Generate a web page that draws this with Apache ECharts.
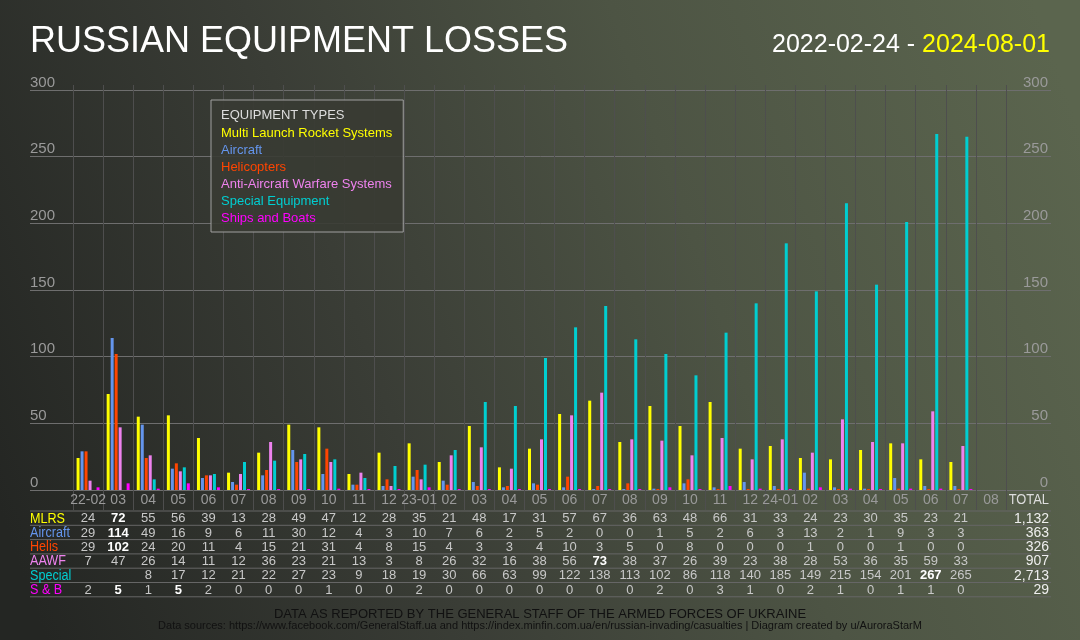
<!DOCTYPE html>
<html>
<head>
<meta charset="utf-8">
<title>Russian Equipment Losses</title>
<script src="https://cdn.jsdelivr.net/npm/echarts@6/dist/echarts.min.js"></script>
<style>
  html, body { margin: 0; padding: 0; background: #30332e; }
  #main { width: 1080px; height: 640px; }
</style>
</head>
<body>
<div id="main"></div>
<script>
const months = ['22-02', '03', '04', '05', '06', '07', '08', '09', '10', '11', '12', '23-01',
  '02', '03', '04', '05', '06', '07', '08', '09', '10', '11', '12', '24-01',
  '02', '03', '04', '05', '06', '07', '08']

const mlrs = [24, 72, 55, 56, 39, 13, 28, 49, 47, 12, 28, 35, 21, 48, 17, 31, 57, 67, 36, 63, 48, 66, 31, 33, 24, 23, 30, 35, 23, 21]
const aircraft = [29, 114, 49, 16, 9, 6, 11, 30, 12, 4, 3, 10, 7, 6, 2, 5, 2, 0, 0, 1, 5, 2, 6, 3, 13, 2, 1, 9, 3, 3]
const helis = [29, 102, 24, 20, 11, 4, 15, 21, 31, 4, 8, 15, 4, 3, 3, 4, 10, 3, 5, 0, 8, 0, 0, 0, 1, 0, 0, 1, 0, 0]
const aawf = [7, 47, 26, 14, 11, 12, 36, 23, 21, 13, 3, 8, 26, 32, 16, 38, 56, 73, 38, 37, 26, 39, 23, 38, 28, 53, 36, 35, 59, 33]
const special = ['-', '-', 8, 17, 12, 21, 22, 27, 23, 9, 18, 19, 30, 66, 63, 99, 122, 138, 113, 102, 86, 118, 140, 185, 149, 215, 154, 201, 267, 265]
const ships = [2, 5, 1, 5, 2, 0, 0, 0, 1, 0, 0, 2, 0, 0, 0, 0, 0, 0, 0, 2, 0, 3, 1, 0, 2, 1, 0, 1, 1, 0]
const totals = ['1,132', '363', '326', '907', '2,713', '29']

const typeNames = ['Multi Launch Rocket Systems', 'Aircraft', 'Helicopters',
  'Anti-Aircraft Warfare Systems', 'Special Equipment', 'Ships and Boats']
const rowNames = ['MLRS', 'Aircraft', 'Helis', 'AAWF', 'Special', 'S & B']
const rows = [mlrs, aircraft, helis, aawf, special, ships]

const colors = ['#ffff00', '#6495ed', '#ff4500', '#ee82ee', '#00ced1', '#ff00ff']
const font = 'Liberation Sans, Arial, sans-serif'

const chart = echarts.init(document.getElementById('main'))

const option = {
  animation: false,
  backgroundColor: new echarts.graphic.LinearGradient(0, 0.8, 1, 0.2, [
    { offset: 0, color: '#242623' },
    { offset: 0.35, color: '#3a3d36' },
    { offset: 0.65, color: '#4d5444' },
    { offset: 1, color: '#5b654e' }
  ]),
  title: [{
    text: 'RUSSIAN EQUIPMENT LOSSES',
    left: 30,
    top: 24,
    padding: 0,
    textStyle: { color: '#ffffff', fontSize: 36, fontWeight: 'normal', fontFamily: font }
  }, {
    text: '{w|2022-02-24 - }{y|2024-08-01}',
    right: 30,
    top: 33,
    padding: 0,
    textStyle: {
      fontFamily: font,
      fontWeight: 'normal',
      rich: {
        w: { color: '#ffffff', fontSize: 25, fontWeight: 'normal', fontFamily: font },
        y: { color: '#ffff00', fontSize: 25, fontWeight: 'normal', fontFamily: font }
      }
    }
  }],
  legend: {
    orient: 'vertical',
    left: 211,
    top: 100,
    itemWidth: 0,
    itemHeight: 13,
    itemGap: 4,
    padding: [27, 11, 7, 5],
    backgroundColor: 'rgba(56,59,51,0.9)',
    borderColor: '#a0a0a0',
    borderWidth: 1,
    selectedMode: false,
    itemStyle: { opacity: 0 },
    textStyle: { fontSize: 13, fontFamily: font },
    data: typeNames.map((n, i) => ({ name: n, textStyle: { color: colors[i] } }))
  },
  grid: [
    { left: 73, right: 74, top: 85, height: 405 },
    { left: 30, right: 29, top: 90, height: 400 }
  ],
  xAxis: [{
    type: 'category',
    gridIndex: 0,
    data: months,
    boundaryGap: true,
    axisLine: { show: false },
    axisTick: { show: true, interval: 0, length: 20, lineStyle: { color: '#4e4e4e' } },
    splitLine: { show: true, interval: 0, lineStyle: { color: '#4e4e4e' } },
    axisLabel: { interval: 0, margin: 3, color: '#9a9a9a', fontSize: 14, fontFamily: font }
  }, {
    type: 'value',
    gridIndex: 1,
    show: false
  }],
  yAxis: [{
    type: 'value',
    gridIndex: 0,
    min: 0,
    max: 303.75,
    show: false
  }, {
    type: 'value',
    gridIndex: 1,
    position: 'left',
    min: 0,
    max: 300,
    interval: 50,
    axisLine: { show: false },
    axisTick: { show: false },
    splitLine: { lineStyle: { color: '#6e6e6e' } },
    axisLabel: { inside: true, margin: 0, verticalAlign: 'bottom', color: '#9a9a9a', fontSize: 15, fontFamily: font }
  }, {
    type: 'value',
    gridIndex: 1,
    position: 'right',
    min: 0,
    max: 300,
    interval: 50,
    axisLine: { show: false },
    axisTick: { show: false },
    splitLine: { show: false },
    axisLabel: { inside: true, margin: 3, verticalAlign: 'bottom', color: '#9a9a9a', fontSize: 15, fontFamily: font }
  }],
  series: rows.map((data, i) => ({
    name: typeNames[i],
    type: 'bar',
    xAxisIndex: 0,
    yAxisIndex: 0,
    data: data,
    barWidth: 3,
    barGap: '33%',
    barMinHeight: 1,
    itemStyle: { color: colors[i] }
  }))
}

chart.setOption(option)

// table under the chart, built from the same arrays
const graphic = []
const rowTop = 511
const rowH = 14.3
const tableLeft = 30
const tableRight = 1051

for (let k = 0; k <= rows.length; k++) {
  graphic.push({
    type: 'line',
    silent: true,
    shape: { x1: tableLeft, y1: rowTop + k * rowH, x2: tableRight, y2: rowTop + k * rowH },
    style: { stroke: '#666666', lineWidth: 1 }
  })
}

graphic.push({
  type: 'text',
  x: 1049,
  y: 500,
  scaleX: 0.92,
  style: { text: 'TOTAL', textAlign: 'right', textVerticalAlign: 'middle', font: '14px ' + font, fill: '#dddddd' }
})

for (let r = 0; r < rows.length; r++) {
  const cy = rowTop + (r + 0.5) * rowH + 0.5
  const vals = rows[r].filter(v => typeof v === 'number')
  const max = Math.max.apply(null, vals)
  graphic.push({
    type: 'text',
    x: 30,
    y: cy,
    scaleX: 0.9,
    style: { text: rowNames[r], textVerticalAlign: 'middle', font: '14px ' + font, fill: colors[r] }
  })
  for (let i = 0; i < rows[r].length; i++) {
    const v = rows[r][i]
    if (typeof v !== 'number') continue
    const x = chart.convertToPixel({ xAxisIndex: 0 }, i)
    const isMax = v === max
    graphic.push({
      type: 'text',
      x: x,
      y: cy,
      style: {
        text: String(v),
        textAlign: 'center',
        textVerticalAlign: 'middle',
        font: (isMax ? 'bold ' : '') + '13px ' + font,
        fill: isMax ? '#ffffff' : '#c8c8c8'
      }
    })
  }
  graphic.push({
    type: 'text',
    x: 1049,
    y: cy,
    style: { text: totals[r], textAlign: 'right', textVerticalAlign: 'middle', font: '14px ' + font, fill: '#eeeeee' }
  })
}

graphic.push({
  type: 'text',
  x: 221,
  y: 115,
  z: 100,
  style: { text: 'EQUIPMENT TYPES', textVerticalAlign: 'middle', font: '13px ' + font, fill: '#dddddd' }
})

graphic.push({
  type: 'text',
  x: 540,
  y: 614,
  style: {
    text: 'DATA AS REPORTED BY THE GENERAL STAFF OF THE ARMED FORCES OF UKRAINE',
    textAlign: 'center',
    textVerticalAlign: 'middle',
    font: '13px ' + font,
    fill: '#111111'
  }
})
graphic.push({
  type: 'text',
  x: 540,
  y: 626,
  style: {
    text: 'Data sources: https://www.facebook.com/GeneralStaff.ua and https://index.minfin.com.ua/en/russian-invading/casualties | Diagram created by u/AuroraStarM',
    textAlign: 'center',
    textVerticalAlign: 'middle',
    font: '11px ' + font,
    fill: '#111111'
  }
})

chart.setOption({ graphic: graphic })

window.addEventListener('resize', function () {
  chart.resize()
})
</script>
</body>
</html>
